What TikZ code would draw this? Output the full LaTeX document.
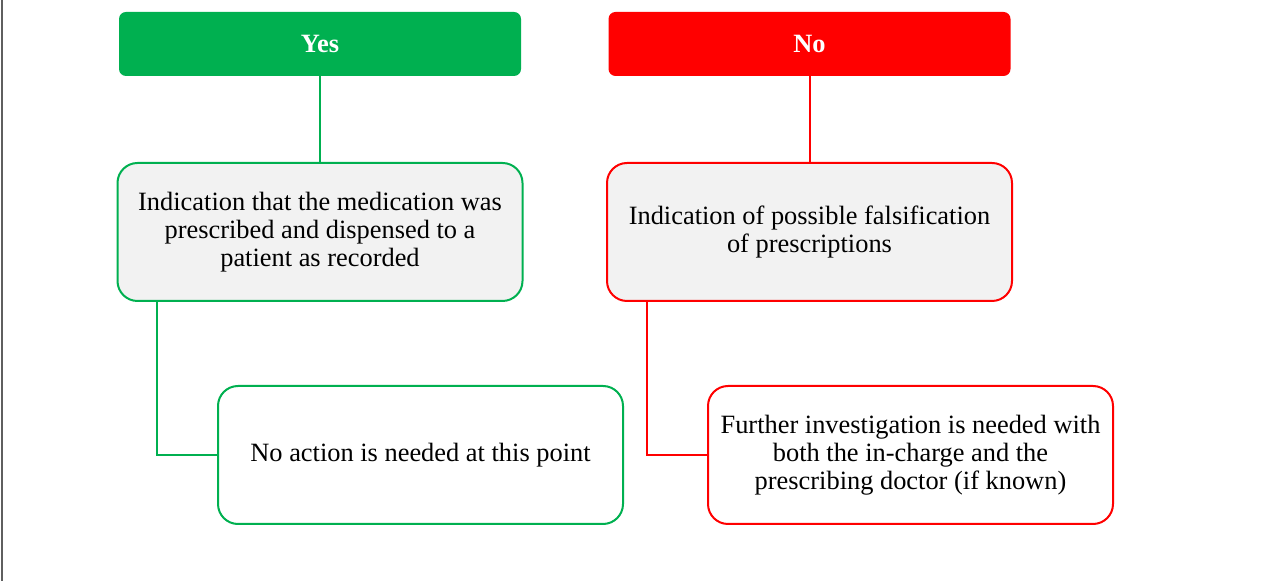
\documentclass[tikz,border=0pt]{standalone}
\usepackage{fontspec}
\setmainfont{Liberation Serif}
\usepackage{tikz}
\usetikzlibrary{calc,arrows.meta}
\usetikzlibrary{positioning}
\definecolor{fc-green}{HTML}{00B050}
\definecolor{fc-red}{HTML}{FF0000}
\definecolor{fc-grey}{HTML}{F2F2F2}
\definecolor{fc-frame}{HTML}{5F5F5F}

\begin{document}
\begin{tikzpicture}[x=0.5pt, y=-0.5pt, font=\fontsize{13.2}{14}\selectfont]
        \tikzset{
            head/.style={rounded corners=3.5pt, minimum width=201pt, minimum height=32pt, text=white, font=\fontsize{13.2}{14}\selectfont\bfseries},
            box/.style={draw=#1, line width=1pt, rounded corners=10pt, minimum width=202.5pt, minimum height=69pt, align=center, text=black},
            link/.style={line width=1pt}
        }
        \useasboundingbox (0,0) rectangle (1279,581);
        \draw[fc-frame, line width=1pt] (1.5,0) -- (1.5,581);
        % yes branch
        \node[head, fill=fc-green] (yes) at (320,44) {Yes};
        \node[box=fc-green, fill=fc-grey] (yesind) at (320,232) {Indication that the medication was\\prescribed and dispensed to a\\patient as recorded};
        \node[box=fc-green, fill=white] (yesact) at (420.5,455) {No action is needed at this point};
        \draw[link, fc-green] (yes) -- (yesind);
        \draw[link, fc-green] ($(yesind.south west)+(40,0)$) |- (yesact.west);
        % no branch
        \node[head, fill=fc-red] (no) at (809.5,44) {No};
        \node[box=fc-red, fill=fc-grey] (noind) at (809.5,232) {Indication of possible falsification\\of prescriptions};
        \node[box=fc-red, fill=white] (noact) at (910.5,455) {Further investigation is needed with\\both the in-charge and the\\prescribing doctor (if known)};
        \draw[link, fc-red] (no) -- (noind);
        \draw[link, fc-red] ($(noind.south west)+(41,0)$) |- (noact.west);
    \end{tikzpicture}
\end{document}
